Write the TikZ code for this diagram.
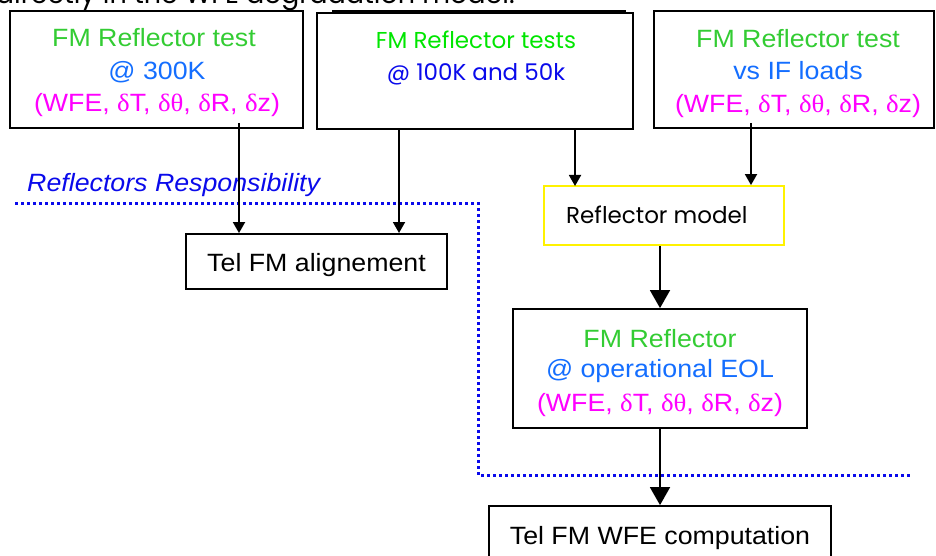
\documentclass[tikz,border=0pt]{standalone}
\usepackage{fontspec}
\setmainfont[FakeStretch=1.07]{Liberation Sans}
\newfontfamily\geofont{Poppins}
\newfontfamily\symfont[FakeStretch=1.07]{Liberation Serif}
\usetikzlibrary{arrows.meta}
\newcommand\dlt{{\symfont δ}}
\newcommand\tht{{\symfont θ}}
\newcommand\errset{(WFE, \dlt T, \dlt\tht, \dlt R, \dlt z)}
\definecolor{tgreen}{RGB}{51,204,51}
\definecolor{bgreen}{RGB}{0,230,0}
\definecolor{lblue}{RGB}{20,110,255}
\definecolor{dblue}{RGB}{10,10,235}
\definecolor{tmag}{RGB}{255,0,255}
\tikzset{
  box/.style={draw=black, line width=1.8pt, rectangle, inner sep=0pt},
  modelbox/.style={draw=yellow, line width=1.8pt, rectangle, inner sep=0pt},
  txt/.style={anchor=base, inner sep=0pt, font=\fontsize{25}{30}\selectfont},
  gtxt/.style={anchor=base, inner sep=0pt, font=\geofont\fontsize{23}{30}\selectfont},
  flow/.style={line width=1.8pt, -{Triangle[width=12pt,length=11pt]}},
  bigflow/.style={line width=1.8pt, -{Triangle[width=20pt,length=18pt]}},
  limit/.style={draw=dblue, line width=3pt, dash pattern=on 3pt off 3pt},
}
\begin{document}
\begin{tikzpicture}[x=1pt,y=-1pt]
\useasboundingbox (0,0) rectangle (936,556);
\clip (0,0) rectangle (936,556);

% caption line running above the chart
\node[gtxt, anchor=base east, font=\geofont\fontsize{27}{30}\selectfont] (cap) at (515,4) {directly in the WFE degradation model.};

% test boxes
\node[box, minimum width=293pt, minimum height=117pt] (t1) at (156.5,69.5) {};
\node[txt, text=tgreen] (t1a) at (154,47) {FM Reflector test};
\node[txt, text=lblue] (t1b) at (157,80) {@ 300K};
\node[txt, text=tmag] (t1c) at (157,112) {\errset};

\draw[line width=2.4pt] (332,11) -- (626,11);
\node[box, minimum width=316pt, minimum height=116pt] (t2) at (475,71) {};
\node[gtxt, text=bgreen] (t2a) at (476,49) {FM Reflector tests};
\node[gtxt, text=dblue] (t2b) at (476,81) {@ 100K and 50k};

\node[box, minimum width=280pt, minimum height=117pt] (t3) at (794,69.5) {};
\node[txt, text=tgreen] (t3a) at (798,48) {FM Reflector test};
\node[txt, text=lblue] (t3b) at (798,80) {vs IF loads};
\node[txt, text=tmag] (t3c) at (798,113) {\errset};

% responsibility limit
\node[txt, anchor=base west, text=dblue, font=\itshape\fontsize{25}{30}\selectfont] (resp) at (27,191) {Reflectors Responsibility};
\draw[limit] (15,203) -- (478,203) -- (478,475) -- (910,475);

% downstream boxes
\node[box, minimum width=261pt, minimum height=55pt] (align) at (316.5,261.5) {};
\node[txt] (aligntxt) at (316.5,271) {Tel FM alignement};

\node[modelbox, minimum width=240pt, minimum height=59pt] (model) at (664,215.5) {};
\node[gtxt, anchor=base west] (modeltxt) at (566,223) {Reflector model};

\node[box, minimum width=294pt, minimum height=119pt] (eol) at (660,368.5) {};
\node[txt, text=tgreen] (eola) at (660,347) {FM Reflector};
\node[txt, text=lblue] (eolb) at (660,377) {@ operational EOL};
\node[txt, text=tmag] (eolc) at (660,411) {\errset};

\node[box, minimum width=342pt, minimum height=60pt] (wfe) at (660,536) {};
\node[txt] (wfetxt) at (660,544) {Tel FM WFE computation};

% connectors
\coordinate (s1) at (239,123);
\coordinate (s3) at (751,123);
\draw[flow] (s1) -- (s1 |- align.north);
\draw[flow] (399,129) -- (399,233);
\draw[flow] (575,129) -- (575,186);
\draw[flow] (s3) -- (s3 |- model.north);
\draw[bigflow] (eol.north |- model.south) -- (eol.north);
\draw[bigflow] (eol.south) -- (wfe.north);
\end{tikzpicture}
\end{document}
